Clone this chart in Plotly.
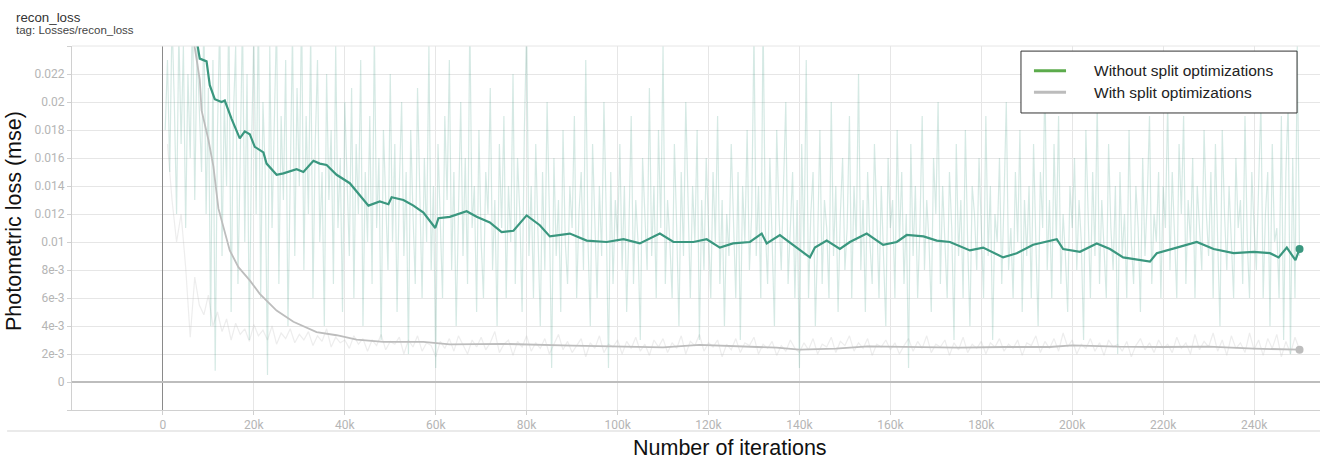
import plotly.graph_objects as go

# ---------------- data ----------------
green_smooth_k = [6.5, 7.8, 8.1, 9.6, 10.3, 11.4, 12.9, 13.6, 15.1, 16.9, 18.0, 19.1, 20.2, 22.1, 22.8,
                  25.0, 26.5, 29.4, 30.9, 33.1, 34.5, 36.0, 38.2, 41.1, 43.3, 45.2, 47.7, 49.6, 50.3, 52.9,
                  55.1, 57.3, 59.9, 60.6, 63.1, 66.8, 69.0, 71.9, 74.5, 77.1, 80.0, 82.9, 85.1, 89.5, 93.2,
                  97.6, 101.3, 104.9, 109.3, 112.3, 116.7, 119.6, 122.5, 125.4, 129.1, 131.7, 132.8, 135.7,
                  139.4, 142.3, 143.4, 146.0, 148.9, 151.1, 154.8, 158.4, 161.4, 163.6, 167.3, 170.2, 173.1,
                  177.5, 180.4, 184.8, 187.8, 191.4, 196.6, 198.0, 201.7, 205.4, 208.3, 211.2, 217.1, 218.6,
                  223.0, 227.4, 231.1, 235.5, 239.9, 243.5, 245.4, 247.2, 249.1, 250.0]
green_smooth = [0.0262, 0.0239, 0.0231, 0.0229, 0.0212, 0.0202, 0.0200, 0.0201, 0.0188, 0.0174, 0.0179, 0.0177,
                0.0168, 0.0164, 0.0156, 0.0148, 0.0149, 0.0152, 0.0150, 0.0158, 0.0156, 0.0155, 0.0148, 0.0142,
                0.0133, 0.0126, 0.0129, 0.0127, 0.0132, 0.0130, 0.0126, 0.0121, 0.0110, 0.0117, 0.0118, 0.0122,
                0.0118, 0.0114, 0.0107, 0.0108, 0.0119, 0.0112, 0.0104, 0.0106, 0.0101, 0.0100, 0.0102, 0.0099,
                0.0106, 0.0100, 0.0100, 0.0102, 0.0096, 0.0099, 0.0100, 0.0106, 0.0099, 0.0105, 0.0096, 0.0089,
                0.0096, 0.0101, 0.0095, 0.0100, 0.0106, 0.0098, 0.0100, 0.0105, 0.0104, 0.0101, 0.0100, 0.0094,
                0.0096, 0.0089, 0.0092, 0.0098, 0.0102, 0.0095, 0.0093, 0.0099, 0.0095, 0.0089, 0.0086, 0.0092,
                0.0096, 0.0100, 0.0095, 0.0092, 0.0093, 0.0092, 0.0089, 0.0096, 0.0087, 0.0095]

gray_smooth_k = [6.0, 7.0, 8.1, 8.5, 10.0, 11.1, 12.2, 13.6, 14.7, 16.6, 19.1, 21.3, 25.0, 28.7, 33.8, 38.2,
                 42.6, 48.5, 57.3, 63.1, 75, 90, 100, 110, 118, 125, 135, 140, 148, 155, 165, 175, 185, 195,
                 200, 210, 220, 230, 240, 250]
gray_smooth = [0.0265, 0.0239, 0.0216, 0.0194, 0.0173, 0.0154, 0.0124, 0.0106, 0.0094, 0.0082, 0.00726, 0.0063,
               0.0051, 0.0043, 0.00357, 0.00334, 0.00303, 0.00286, 0.00286, 0.00269, 0.00272, 0.0026, 0.00252,
               0.00248, 0.00265, 0.00258, 0.00245, 0.00231, 0.00238, 0.00255, 0.0025, 0.00245, 0.0025, 0.0025,
               0.00262, 0.00252, 0.0025, 0.00252, 0.00238, 0.00231]

# raw (unsmoothed) values, in units of 1e-4, one per 500 iterations from 0.5k to 250k
green_raw_e4 = [
    180, 230, 150, 260, 200, 120, 250, 170, 240, 110, 220, 160, 270, 130, 240, 190, 150, 260, 120, 210,
    40, 230, 8, 180, 260, 90, 200, 140, 270, 50, 190, 240, 70, 160, 260, 100, 220, 30, 170, 250,
    120, 270, 60, 200, 150, 5, 240, 110, 180, 260, 70, 190, 130, 230, 40, 160, 250, 90, 210, 140,
    270, 80, 190, 120, 250, 60, 170, 230, 100, 150, 40, 220, 130, 180, 70, 240, 110, 160, 50, 200,
    140, 90, 210, 60, 170, 120, 230, 40, 150, 100, 190, 70, 250, 110, 160, 30, 180, 130, 80, 220,
    100, 170, 50, 140, 200, 90, 150, 20, 180, 120, 70, 210, 130, 60, 160, 100, 240, 80, 140, 10,
    170, 110, 60, 190, 130, 230, 80, 150, 40, 120, 200, 90, 160, 70, 260, 110, 140, 50, 180, 100,
    60, 150, 120, 210, 80, 130, 40, 170, 110, 190, 60, 140, 100, 220, 70, 160, 120, 50, 180, 255,
    90, 140, 60, 170, 110, 40, 150, 80, 200, 120, 10, 160, 90, 130, 50, 180, 100, 70, 140, 110,
    190, 60, 120, 150, 80, 230, 100, 40, 170, 110, 60, 140, 90, 200, 120, 10, 150, 70, 130, 100,
    170, 80, 140, 50, 110, 190, 70, 130, 100, 30, 160, 120, 80, 210, 90, 140, 60, 180, 110, 240,
    70, 130, 100, 60, 170, 110, 40, 150, 90, 200, 120, 60, 140, 100, 180, 30, 130, 80, 160, 110,
    60, 150, 100, 190, 70, 130, 40, 120, 90, 170, 110, 60, 150, 30, 140, 100, 180, 80, 120, 250,
    90, 140, 60, 260, 110, 70, 160, 100, 40, 180, 120, 80, 140, 200, 70, 110, 150, 60, 130, 10,
    170, 90, 230, 60, 120, 150, 40, 100, 180, 70, 130, 110, 60, 200, 90, 140, 50, 120, 160, 80,
    110, 190, 60, 140, 100, 220, 80, 130, 50, 150, 100, 70, 170, 120, 60, 140, 90, 40, 160, 110,
    130, 60, 180, 100, 150, 70, 120, 10, 170, 90, 140, 60, 110, 190, 80, 130, 100, 50, 160, 120,
    200, 70, 140, 100, 60, 150, 110, 30, 170, 90, 130, 60, 180, 100, 40, 140, 120, 80, 160, 110,
    60, 190, 90, 140, 30, 120, 100, 160, 70, 130, 200, 80, 110, 60, 150, 100, 180, 50, 130, 90,
    140, 60, 170, 100, 40, 150, 110, 220, 80, 130, 60, 170, 100, 190, 70, 120, 90, 50, 140, 110,
    160, 80, 130, 100, 30, 180, 120, 60, 150, 90, 200, 70, 130, 100, 60, 170, 110, 80, 140, 20,
    150, 90, 120, 60, 180, 100, 70, 140, 110, 50, 160, 90, 130, 190, 70, 120, 100, 150, 60, 140,
    110, 200, 80, 150, 100, 60, 170, 120, 190, 70, 130, 100, 160, 60, 140, 110, 80, 180, 120, 90,
    150, 60, 170, 100, 40, 180, 120, 80, 140, 100, 60, 160, 110, 130, 70, 190, 100, 60, 150, 110,
    80, 140, 200, 60, 120, 150, 40, 170, 100, 110, 60, 190, 30, 150, 200, 20, 160, 60, 240, 90]
green_raw_k = [0.5 * (i + 1) for i in range(len(green_raw_e4))]

# raw values, units of 1e-4, one per 1k iterations from 1k to 250k
gray_raw_e4 = [
    170, 130, 100, 120, 82, 32, 75, 55, 48, 62, 40, 50, 36, 45, 30, 42, 34, 38, 29, 41,
    33, 37, 30, 40, 27, 35, 31, 38, 28, 34, 30, 36, 26, 33, 29, 38, 25, 32, 28, 30,
    24, 33, 27, 31, 22, 30, 26, 34, 23, 29, 27, 32, 20, 30, 25, 33, 22, 28, 26, 18,
    29, 24, 31, 22, 33, 26, 20, 30, 25, 32, 23, 28, 36, 21, 27, 30, 19, 29, 25, 33,
    22, 28, 24, 31, 20, 27, 34, 23, 29, 21, 26, 31, 18, 28, 24, 33, 21, 27, 25, 30,
    20, 29, 24, 32, 22, 27, 19, 30, 25, 31, 21, 28, 24, 33, 20, 29, 26, 34, 22, 28,
    25, 30, 18, 27, 23, 31, 21, 28, 26, 32, 20, 27, 24, 29, 19, 26, 22, 30, 24, 21,
    28, 23, 31, 20, 27, 25, 32, 21, 29, 26, 33, 22, 28, 24, 31, 19, 27, 25, 30, 23,
    28, 20, 26, 31, 22, 29, 24, 33, 21, 27, 25, 30, 19, 28, 23, 32, 21, 27, 24, 29,
    20, 28, 25, 31, 22, 27, 24, 30, 19, 28, 26, 33, 21, 29, 24, 31, 22, 35, 25, 30,
    20, 27, 24, 31, 22, 28, 19, 30, 25, 27, 22, 29, 18, 26, 31, 23, 28, 21, 30, 24,
    27, 21, 32, 24, 28, 20, 34, 23, 29, 25, 35, 22, 30, 19, 33, 24, 28, 21, 35, 23,
    30, 19, 31, 24, 34, 18, 29, 20, 32, 23]
gray_raw_k = [i + 1 for i in range(len(gray_raw_e4))]

legend_names = ["Without split optimizations", "With split optimizations"]
x_tick_vals = [0, 20000, 40000, 60000, 80000, 100000, 120000, 140000, 160000, 180000, 200000, 220000, 240000]
x_tick_text = ["0", "20k", "40k", "60k", "80k", "100k", "120k", "140k", "160k", "180k", "200k", "220k", "240k"]
y_tick_vals = [-0.002, 0, 0.002, 0.004, 0.006, 0.008, 0.010, 0.012, 0.014, 0.016, 0.018, 0.020, 0.022, 0.024]
y_tick_text = ["", "0", "2e-3", "4e-3", "6e-3", "8e-3", "0.01", "0.012", "0.014", "0.016", "0.018", "0.02", "0.022", ""]

# ---------------- style ----------------
TEAL = "#3a977f"
TEAL_RAW = "rgba(58,151,127,0.21)"
GRAY = "#bdbdbd"
GRAY_RAW = "rgba(190,190,190,0.28)"
LEG_GREEN = "#5cab4c"
LEG_GRAY = "#bcbcbc"

fig = go.Figure()
fig.add_trace(go.Scatter(x=[k * 1000 for k in gray_raw_k], y=[v * 1e-4 for v in gray_raw_e4],
                         mode="lines", line=dict(color=GRAY_RAW, width=1.2), showlegend=False,
                         hoverinfo="skip"))
fig.add_trace(go.Scatter(x=[k * 1000 for k in green_raw_k], y=[v * 1e-4 for v in green_raw_e4],
                         mode="lines", line=dict(color=TEAL_RAW, width=1.2), showlegend=False,
                         hoverinfo="skip"))
fig.add_trace(go.Scatter(x=[k * 1000 for k in gray_smooth_k], y=gray_smooth,
                         mode="lines", line=dict(color=GRAY, width=1.8), showlegend=False))
fig.add_trace(go.Scatter(x=[k * 1000 for k in green_smooth_k], y=green_smooth,
                         mode="lines", line=dict(color=TEAL, width=2.2), showlegend=False))
fig.add_trace(go.Scatter(x=[gray_smooth_k[-1] * 1000], y=[gray_smooth[-1]], mode="markers",
                         marker=dict(color=GRAY, size=8), showlegend=False))
fig.add_trace(go.Scatter(x=[green_smooth_k[-1] * 1000], y=[green_smooth[-1]], mode="markers",
                         marker=dict(color=TEAL, size=8), showlegend=False))

tick_font = dict(family="Roboto, Helvetica, Arial, sans-serif", size=12, color="#b5b5b5")
fig.update_xaxes(range=[-20000, 254500], tickmode="array", tickvals=x_tick_vals, ticktext=x_tick_text,
                 showgrid=True, gridcolor="#e6e6e6", gridwidth=1,
                 zeroline=True, zerolinecolor="#8a8a8a", zerolinewidth=1,
                 showline=True, linecolor="#d0d0d0", linewidth=1,
                 ticks="outside", ticklen=4, tickcolor="#d0d0d0", tickfont=tick_font, fixedrange=True)
fig.update_yaxes(range=[-0.002, 0.024], tickmode="array", tickvals=y_tick_vals, ticktext=y_tick_text,
                 showgrid=True, gridcolor="#e6e6e6", gridwidth=1,
                 zeroline=True, zerolinecolor="#bdbdbd", zerolinewidth=2,
                 showline=True, linecolor="#d0d0d0", linewidth=1,
                 ticks="outside", ticklen=4, tickcolor="#d0d0d0", tickfont=tick_font, fixedrange=True)

shapes = [
    dict(type="line", xref="paper", yref="paper", x0=0, x1=1, y0=1, y1=1, line=dict(color="#e6e6e6", width=1)),
    dict(type="line", xref="paper", yref="paper", x0=-0.052, x1=1, y0=-0.0577, y1=-0.0577,
         line=dict(color="#d5d5d5", width=1)),
    dict(type="rect", xref="paper", yref="paper", x0=0.7604, x1=0.9816, y0=0.816, y1=0.986,
         line=dict(color="#333333", width=1), fillcolor="white", layer="above"),
    dict(type="line", xref="paper", yref="paper", x0=0.7708, x1=0.7965, y0=0.932, y1=0.932,
         line=dict(color=LEG_GREEN, width=3), layer="above"),
    dict(type="line", xref="paper", yref="paper", x0=0.7708, x1=0.7965, y0=0.873, y1=0.873,
         line=dict(color=LEG_GRAY, width=3), layer="above"),
]
leg_font = dict(family="Liberation Sans, Arial, sans-serif", size=15.5, color="#222222")
annotations = [
    dict(text=legend_names[0], xref="paper", yref="paper", x=0.8172, y=0.932, xanchor="left",
         yanchor="middle", showarrow=False, font=leg_font),
    dict(text=legend_names[1], xref="paper", yref="paper", x=0.8172, y=0.873, xanchor="left",
         yanchor="middle", showarrow=False, font=leg_font),
    dict(text="recon_loss", xref="paper", yref="paper", x=-0.0465, y=1.078, xanchor="left",
         yanchor="middle", showarrow=False,
         font=dict(family="Liberation Sans, Arial, sans-serif", size=13.3, color="#333333")),
    dict(text="tag: Losses/recon_loss", xref="paper", yref="paper", x=-0.0465, y=1.043, xanchor="left",
         yanchor="middle", showarrow=False,
         font=dict(family="Liberation Sans, Arial, sans-serif", size=11.5, color="#444444")),
    dict(text="Number of iterations", xref="paper", yref="paper", x=(730 - 72) / 1248, y=-0.104,
         xanchor="center", yanchor="middle", showarrow=False,
         font=dict(family="Liberation Sans, Arial, sans-serif", size=21.5, color="#111111")),
    dict(text="Photometric loss (mse)", xref="paper", yref="paper", x=-0.0465, y=(410 - 221) / 364,
         xanchor="center", yanchor="middle", textangle=-90, showarrow=False,
         font=dict(family="Liberation Sans, Arial, sans-serif", size=21.5, color="#111111")),
]

fig.update_layout(width=1320, height=459, autosize=False,
                  margin=dict(l=72, r=0, t=46, b=49, pad=0),
                  plot_bgcolor="white", paper_bgcolor="white",
                  shapes=shapes, annotations=annotations, showlegend=False)

fig.write_html("out.html", config={"displayModeBar": False},
               post_script="document.body.style.margin='0';document.body.style.overflow='hidden';")
